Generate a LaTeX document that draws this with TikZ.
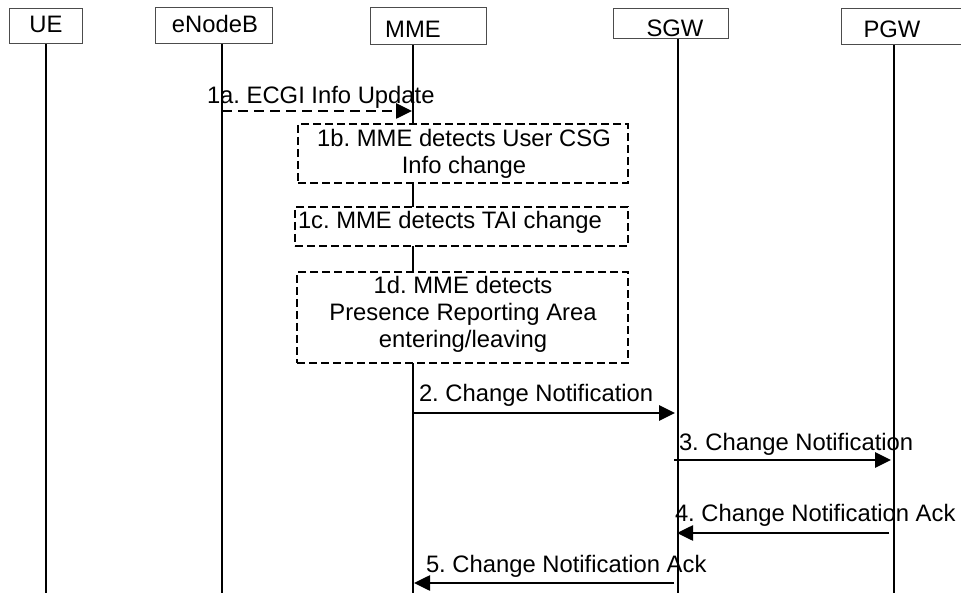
\documentclass[tikz,border=0pt]{standalone}
\usepackage{fontspec}
\setmainfont{Liberation Sans}
\usetikzlibrary{arrows.meta}
\frenchspacing
\begin{document}
\begin{tikzpicture}[x=1pt,y=-1pt,
  every node/.style={font=\fontsize{23.8}{27.4}\selectfont, inner sep=0pt, outer sep=0pt},
  actorbox/.style={draw=black!70, line width=1pt, fill=white, inner sep=0pt},
  lifeline/.style={line width=2pt, black},
  stepbox/.style={draw=black, line width=1.5pt, dash pattern=on 8pt off 4pt, fill=white, inner sep=0pt},
  msg/.style={line width=2.6pt, -{Triangle[length=16pt,width=15pt]}},
  dmsg/.style={msg, dash pattern=on 10pt off 6pt}
]
\useasboundingbox (0,0) rectangle (961,593);

% lifeline end points
\coordinate (ueTop) at (46,44);   \coordinate (ueBot) at (46,593);
\coordinate (enbTop) at (222,44); \coordinate (enbBot) at (222,593);
\coordinate (mmeTop) at (413,45); \coordinate (mmeBot) at (413,593);
\coordinate (sgwTop) at (678,39); \coordinate (sgwBot) at (678,593);
\coordinate (pgwTop) at (894,45); \coordinate (pgwBot) at (894,593);

\draw[lifeline] (ueTop) -- (ueBot);
\draw[lifeline] (enbTop) -- (enbBot);
\draw[lifeline] (mmeTop) -- (mmeBot);
\draw[lifeline] (sgwTop) -- (sgwBot);
\draw[lifeline] (pgwTop) -- (pgwBot);

% actor boxes
\node[actorbox, anchor=north west, minimum width=73pt, minimum height=35pt] (ueBox) at (9,9) {};
\node[anchor=base] (ueT) at (46,33) {UE};
\node[actorbox, anchor=north west, minimum width=117pt, minimum height=36pt] (enbBox) at (155,8) {};
\node[anchor=base] (enbT) at (215,33) {eNodeB};
\node[actorbox, anchor=north west, minimum width=116pt, minimum height=37pt] (mmeBox) at (370,8) {};
\node[anchor=base] (mmeT) at (413,38) {MME};
\node[actorbox, anchor=north west, minimum width=115pt, minimum height=30pt] (sgwBox) at (613,9) {};
\node[anchor=base] (sgwT) at (675,37) {SGW};
\node[actorbox, anchor=north west, minimum width=130pt, minimum height=36pt] (pgwBox) at (841,9) {};
\node[anchor=base] (pgwT) at (892,38) {PGW};

% 1a
\coordinate (enb1a) at (222,111);
\coordinate (mme1a) at (412,111);
\draw[dmsg] (enb1a) -- (mme1a);
\node[anchor=base west] (l1a) at (207,104) {1a. ECGI Info Update};

% step boxes
\node[stepbox, minimum width=330pt, minimum height=59pt] (b1b) at (463,153.5) {};
\node[anchor=base] (t1b1) at (464,147) {1b. MME detects User CSG};
\node[anchor=base] (t1b2) at (464,174) {Info change};

\node[stepbox, minimum width=333pt, minimum height=39pt] (b1c) at (461.5,226.5) {};
\node[anchor=base west] (t1c) at (298,229) {1c. MME detects TAI change};

\node[stepbox, minimum width=331pt, minimum height=91pt] (b1d) at (462.5,317.5) {};
\node[anchor=base] (t1d1) at (463,294) {1d. MME detects};
\node[anchor=base] (t1d2) at (463,321) {Presence Reporting Area};
\node[anchor=base] (t1d3) at (463,348) {entering/leaving};

% messages
\coordinate (mme2) at (413,413);  \coordinate (sgw2) at (675,413);
\draw[msg] (mme2) -- (sgw2);
\node[anchor=base west] (l2) at (419,402) {2. Change Notification};

\coordinate (sgw3) at (674,460);  \coordinate (pgw3) at (891,460);
\draw[msg] (sgw3) -- (pgw3);
\node[anchor=base west] (l3) at (679,450) {3. Change Notification};

\coordinate (pgw4) at (889,533);  \coordinate (sgw4) at (677,533);
\draw[msg] (pgw4) -- (sgw4);
\node[anchor=base west] (l4) at (675,521) {4. Change Notification Ack};

\coordinate (sgw5) at (674,583);  \coordinate (mme5) at (414,583);
\draw[msg] (sgw5) -- (mme5);
\node[anchor=base west] (l5) at (426,572) {5. Change Notification Ack};
\end{tikzpicture}
\end{document}
